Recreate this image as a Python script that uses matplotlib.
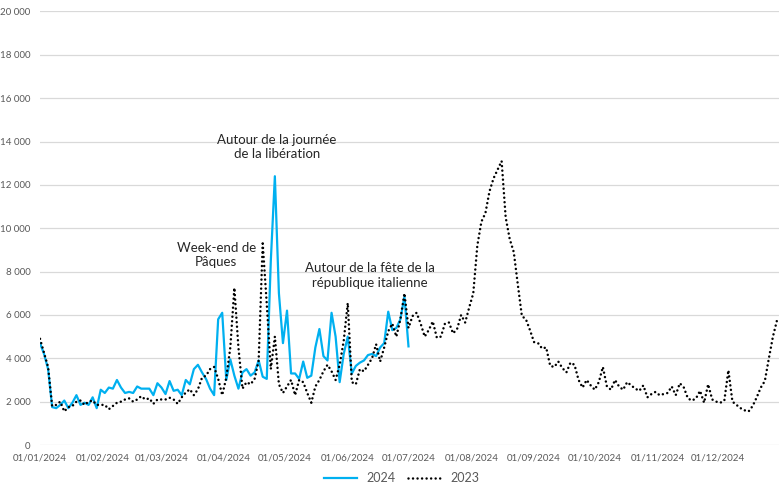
import matplotlib
matplotlib.use('Agg')
import matplotlib.pyplot as plt
import pandas as pd

plt.rcParams['font.family'] = ['Lato', 'DejaVu Sans']

# daily visits, one value every 2 days (day-of-year)
vals_2023 = [
    4900, 4250, 3600, 1800, 1850, 2000, 1550, 1750, 1800, 2000,
    2050, 1850, 2000, 2050, 1850, 1850, 1850, 1650, 1800, 1950,
    2000, 2100, 2150, 2000, 2100, 2250, 2100, 2150, 1900, 2100,
    2100, 2100, 2180, 2100, 1900, 2200, 2420, 2570, 2300, 2570,
    3100, 3200, 3500, 3600, 3050, 2300, 3100, 4500, 7250, 4500,
    2600, 2900, 2800, 3050, 3900, 9300, 6500, 3500, 5000, 2800,
    2400, 2700,
    3000, 2300, 3000, 2900, 2400, 1950, 2700, 3000, 3400, 3700,
    3400, 3000, 3700, 4800, 6550, 2900, 2800, 3500, 3400, 3700,
    4000, 4650, 3850, 4500, 5250, 5600, 5000, 5800, 7000, 5400,
    5950,
    6100, 5600, 5000, 5300, 5700, 4950, 5000, 5600, 5650, 5150,
    5350, 6000, 5650, 6350, 7000, 9200, 10300, 10700, 11700, 12300,
    12700, 13100, 10500, 9500, 8900, 7400, 5950, 5800, 5300, 4750,
    4700,
    4450, 4500, 3650, 3600, 3850, 3550, 3350, 3800, 3700, 3000,
    2650, 3000, 2750, 2550, 2900, 3600, 2700, 2550, 3000, 2700,
    2550, 2900, 2750, 2600, 2500, 2750, 2200, 2350, 2450,
    2300, 2350, 2400, 2700, 2300, 2850, 2650, 2150, 2050, 2150,
    2500, 1950, 2800, 2100, 2000, 1950, 2050, 3450, 2000, 1850,
    1700, 1600, 1550, 1800, 2200, 2650, 2950, 4000, 5000, 5750,
]

vals_2024 = [
    4700, 4200, 3500, 1750, 1700, 1850, 2050, 1700, 1950, 2300,
    1850, 1950, 1850, 2200, 1700, 2550, 2400, 2650, 2600, 3000,
    2650, 2400, 2450, 2400, 2700, 2600, 2600, 2600, 2300, 2850,
    2650, 2350, 2950, 2500, 2550, 2300, 3000, 2800, 3500, 3700,
    3350, 3050, 2600, 2300, 5800, 6100, 3000, 3950, 3200, 2600,
    3350, 3500, 3200, 3350, 3900, 3150, 3050, 8500, 12400, 7000,
    4700, 6200,
    3300, 3300, 3050, 3850, 3100, 3200, 4500, 5350, 4100, 3900,
    6100, 5000, 2900, 4200, 5000, 3300, 3650, 3800, 3900, 4150,
    4200, 4100, 4500, 4700, 6150, 5300, 5400, 5800, 6850, 4550,
]

dates_2023 = pd.date_range('2024-01-01', periods=len(vals_2023), freq='2D')
dates_2024 = pd.date_range('2024-01-01', periods=len(vals_2024), freq='2D')

month_ticks = pd.date_range('2024-01-01', '2024-12-01', freq='MS')
y_ticks = list(range(0, 20001, 2000))

notes = [
    ('Autour de la journée\nde la libération', '2024-04-27', 13750),
    ('Week-end de\nPâques', '2024-03-28', 8770),
    ('Autour de la fête de la\nrépublique italienne', '2024-06-12', 7820),
]

fig = plt.figure(figsize=(7.79, 4.86), dpi=100)
ax = fig.add_axes([40/779, 41/486, 739/779, 433.5/486])

ax.plot(dates_2024, vals_2024, color='#00B0F0', lw=1.6, label='2024', zorder=3)
ax.plot(dates_2023, vals_2023, color='black', lw=1.8, ls=(0, (0.01, 1.8)),
        dash_capstyle='round', label='2023', zorder=4)

ax.set_xlim(pd.Timestamp('2024-01-01'), pd.Timestamp('2024-12-31'))
ax.set_ylim(0, 20000)
ax.set_xticks(month_ticks)
ax.set_xticklabels([d.strftime('%d/%m/%Y') for d in month_ticks])
ax.set_yticks(y_ticks)
ax.set_yticklabels([f'{v:,}'.replace(',', ' ') for v in y_ticks])
ax.tick_params(length=0, colors='#595959', labelsize=7)
ax.tick_params(axis='x', pad=6)
ax.tick_params(axis='y', pad=7)
ax.grid(axis='y', color='#d9d9d9', lw=0.9)
ax.set_axisbelow(True)
for s in ax.spines.values():
    s.set_visible(False)

for txt, d, v in notes:
    ax.text(pd.Timestamp(d), v, txt, ha='center', va='center', fontsize=9.5,
            color='#262626', linespacing=1.25)

fig.legend(loc='center', bbox_to_anchor=(402/779, 1 - 478/486), ncol=2,
           frameon=False, fontsize=9, handlelength=2.6, columnspacing=1.0,
           labelcolor='#595959')

fig.savefig('out.png', dpi=100)
